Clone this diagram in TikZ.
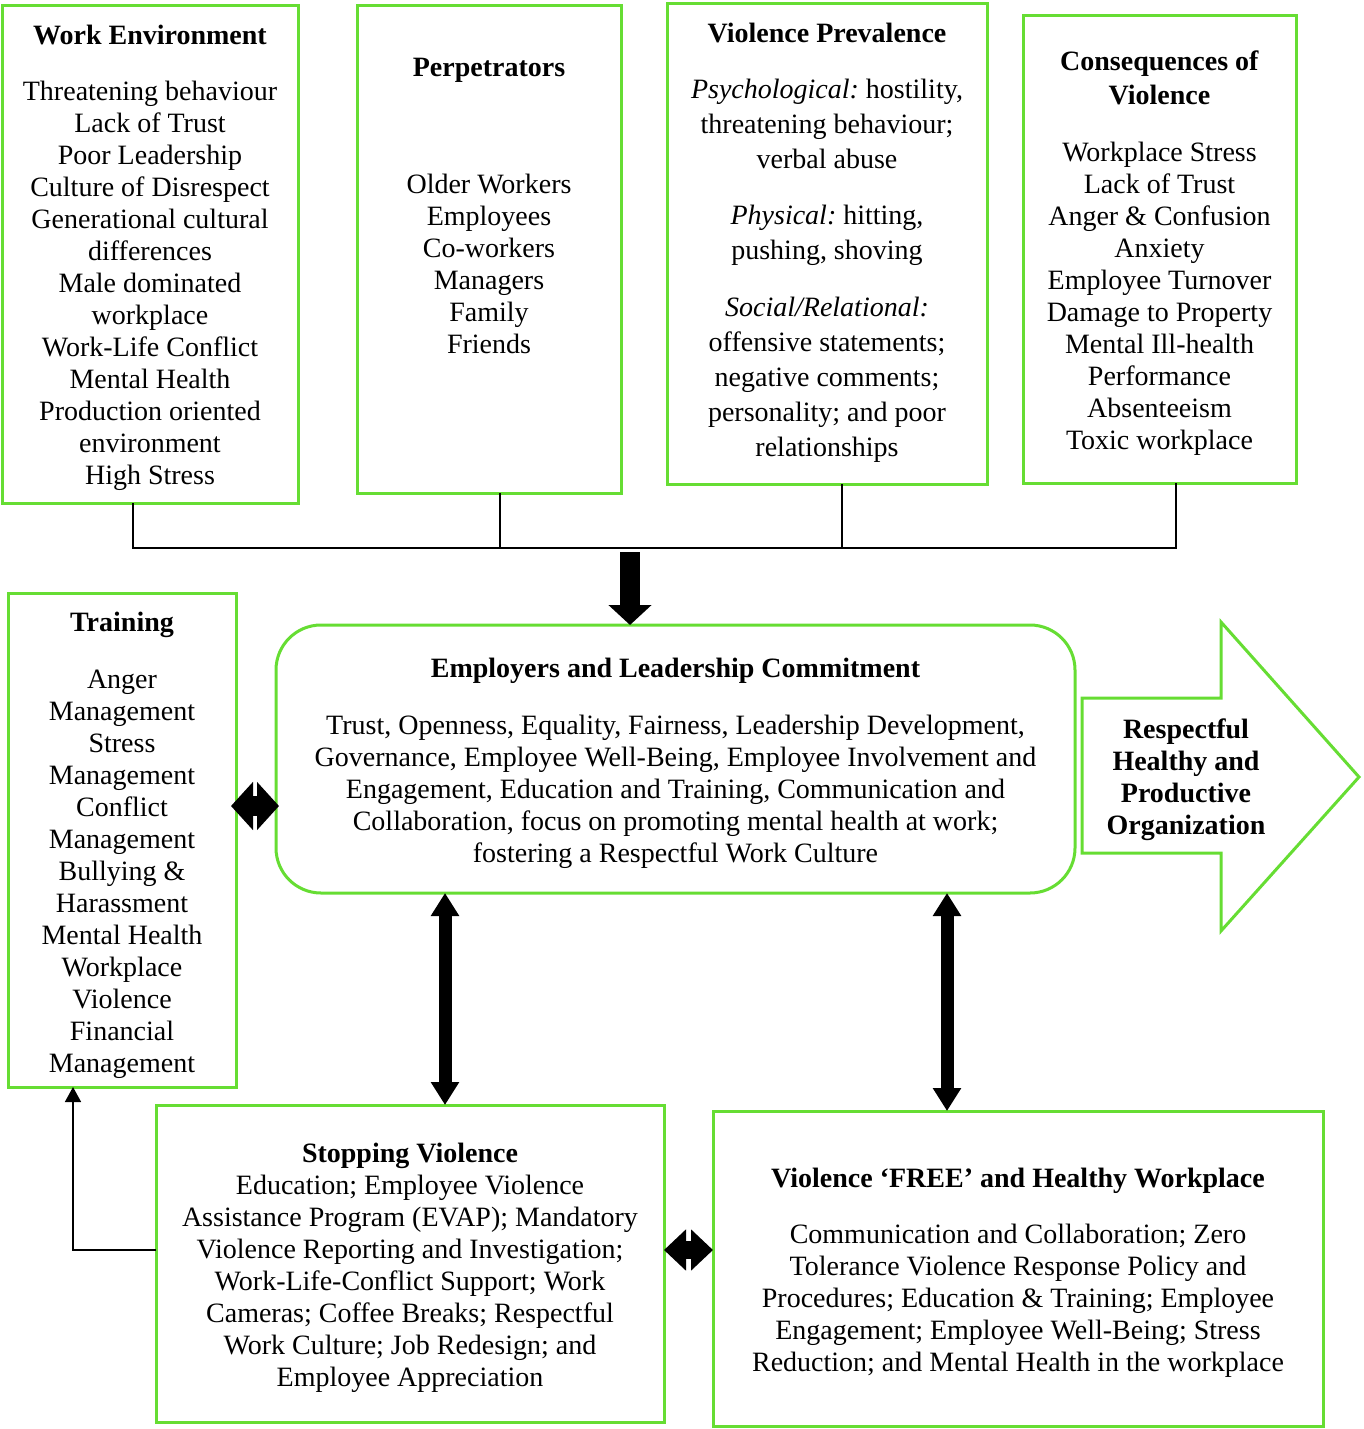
\documentclass[tikz,border=0pt]{standalone}
\usepackage{fontspec}
\setmainfont{Liberation Serif}
\usepackage{tikz}
\usetikzlibrary{shapes, arrows, arrows.meta, positioning}
\definecolor{leafgreen}{RGB}{102,221,51}
\frenchspacing

\begin{document}
\begin{tikzpicture}[x=1pt, y=-1pt]
        \tikzstyle{greenbox} = [rectangle, draw=leafgreen, line width=3pt, outer sep=0pt, anchor=north west]
        \tikzstyle{txt} = [align=center, inner sep=0pt, anchor=north, font=\fontsize{28}{32}\selectfont]
        \tikzstyle{busline} = [line width=1.5pt]
        \tikzstyle{fatarrow} = [line width=20pt, -{Triangle[length=20pt, width=42pt]}]
        \tikzstyle{linkarrow} = [line width=13pt, {Triangle[length=23pt, width=27pt]}-{Triangle[length=23pt, width=27pt]}]
        \tikzstyle{diamondarrow} = [line width=20pt, {Triangle[length=22pt, width=47pt]}-{Triangle[length=22pt, width=47pt]}]
        \tikzstyle{pairarrow} = [line width=18pt, {Triangle[length=22pt, width=40pt]}-{Triangle[length=22pt, width=40pt]}]

        \useasboundingbox (0,0) rectangle (1363,1429);

        \node (we) [greenbox, minimum width=296pt, minimum height=497pt] at (2,6) {};
        \node (wetext) [txt, below=19pt of we.north]{\textbf{Work Environment}\\[24pt]
            Threatening behaviour\\ Lack of Trust\\ Poor Leadership\\ Culture of Disrespect\\
            Generational cultural\\ differences\\ Male dominated\\ workplace\\ Work-Life Conflict\\
            Mental Health\\ Production oriented\\ environment\\ High Stress};

        \node (perp) [greenbox, minimum width=264pt, minimum height=487pt] at (357,6) {};
        \node (perptext) [txt, below=52pt of perp.north]{\textbf{Perpetrators}\\[85pt]
            Older Workers\\ Employees\\ Co-workers\\ Managers\\ Family\\ Friends};

        \node (viol) [greenbox, minimum width=320pt, minimum height=480pt] at (667,4) {};
        \node (violtext) [txt, font=\fontsize{28}{35}\selectfont, below=19pt of viol.north]{\textbf{Violence Prevalence}\\[21pt]
            \textit{Psychological:} hostility,\\ threatening behaviour;\\ verbal abuse\\[21pt]
            \textit{Physical:} hitting,\\ pushing, shoving\\[22pt]
            \textit{Social/Relational:}\\ offensive statements;\\ negative comments;\\
            personality; and poor\\ relationships};

        \node (cons) [greenbox, minimum width=273pt, minimum height=467pt] at (1023,16) {};
        \node (constext) [txt, below=35pt of cons.north]{\textbf{Consequences of}\\[2pt] \textbf{Violence}\\[25pt]
            Workplace Stress\\ Lack of Trust\\ Anger \& Confusion\\ Anxiety\\ Employee Turnover\\
            Damage to Property\\ Mental Ill-health\\ Performance\\ Absenteeism\\ Toxic workplace};

        \node (train) [greenbox, minimum width=228pt, minimum height=494pt] at (8,593) {};
        \node (traintext) [txt, below=19pt of train.north]{\textbf{Training}\\[25pt]
            Anger\\ Management\\ Stress\\ Management\\ Conflict\\ Management\\ Bullying \&\\
            Harassment\\ Mental Health\\ Workplace\\ Violence\\ Financial\\ Management};

        \node (emp) [greenbox, rounded corners=45pt, minimum width=799pt, minimum height=268pt] at (276,625) {};
        \node (emptext) [txt, below=33pt of emp.north]{\textbf{Employers and Leadership Commitment}\\[25pt]
            Trust, Openness, Equality, Fairness, Leadership Development,\\
            Governance, Employee Well-Being, Employee Involvement and\\
            Engagement, Education and Training, Communication and\\
            Collaboration, focus on promoting mental health at work;\\
            fostering a Respectful Work Culture};

        \node (stop) [greenbox, minimum width=508pt, minimum height=317pt] at (156,1105) {};
        \node (stoptext) [txt, below=38pt of stop.north]{\textbf{Stopping Violence}\\
            Education; Employee Violence\\ Assistance Program (EVAP); Mandatory\\
            Violence Reporting and Investigation;\\ Work-Life-Conflict Support; Work\\
            Cameras; Coffee Breaks; Respectful\\ Work Culture; Job Redesign; and\\
            Employee Appreciation};

        \node (free) [greenbox, minimum width=610pt, minimum height=315pt] at (713,1111) {};
        \node (freetext) [txt, below=57pt of free.north]{\textbf{Violence `FREE' and Healthy Workplace}\\[24pt]
            Communication and Collaboration; Zero\\ Tolerance Violence Response Policy and\\
            Procedures; Education \& Training; Employee\\ Engagement; Employee Well-Being; Stress\\
            Reduction; and Mental Health in the workplace};

        \draw[leafgreen, line width=3pt, line join=miter] (1082,698) -- (1221,698) -- (1221,622) -- (1359,777)
            -- (1221,931) -- (1221,853) -- (1082,853) -- cycle;
        \node (goal) [txt] at (1186,719){\textbf{Respectful}\\ \textbf{Healthy and}\\ \textbf{Productive}\\ \textbf{Organization}};

        \coordinate (bus) at (630,548);
        \draw[busline] (we.south -| 133,0) -- (133,0 |- bus) -- (1176,0 |- bus) -- (cons.south -| 1176,0);
        \draw[busline] (perp.south -| 500,0) -- (500,0 |- bus);
        \draw[busline] (viol.south -| 842,0) -- (842,0 |- bus);
        \draw[fatarrow] (630,552) -- (630,0 |- emp.north);

        \draw[diamondarrow, shorten <=-5pt, shorten >=-3pt] (train.east |- 0,806) -- (emp.west |- 0,806);
        \draw[linkarrow] (445,0 |- emp.south) -- (445,0 |- stop.north);
        \draw[linkarrow] (947,0 |- emp.south) -- (947,0 |- free.north);
        \draw[pairarrow] (stop.east |- 0,1250) -- (free.west |- 0,1250);
        \draw[busline, -{Triangle[length=15pt, width=16pt]}] (stop.west |- 0,1250) -| (train.south -| 73,0);

    \end{tikzpicture}
\end{document}
